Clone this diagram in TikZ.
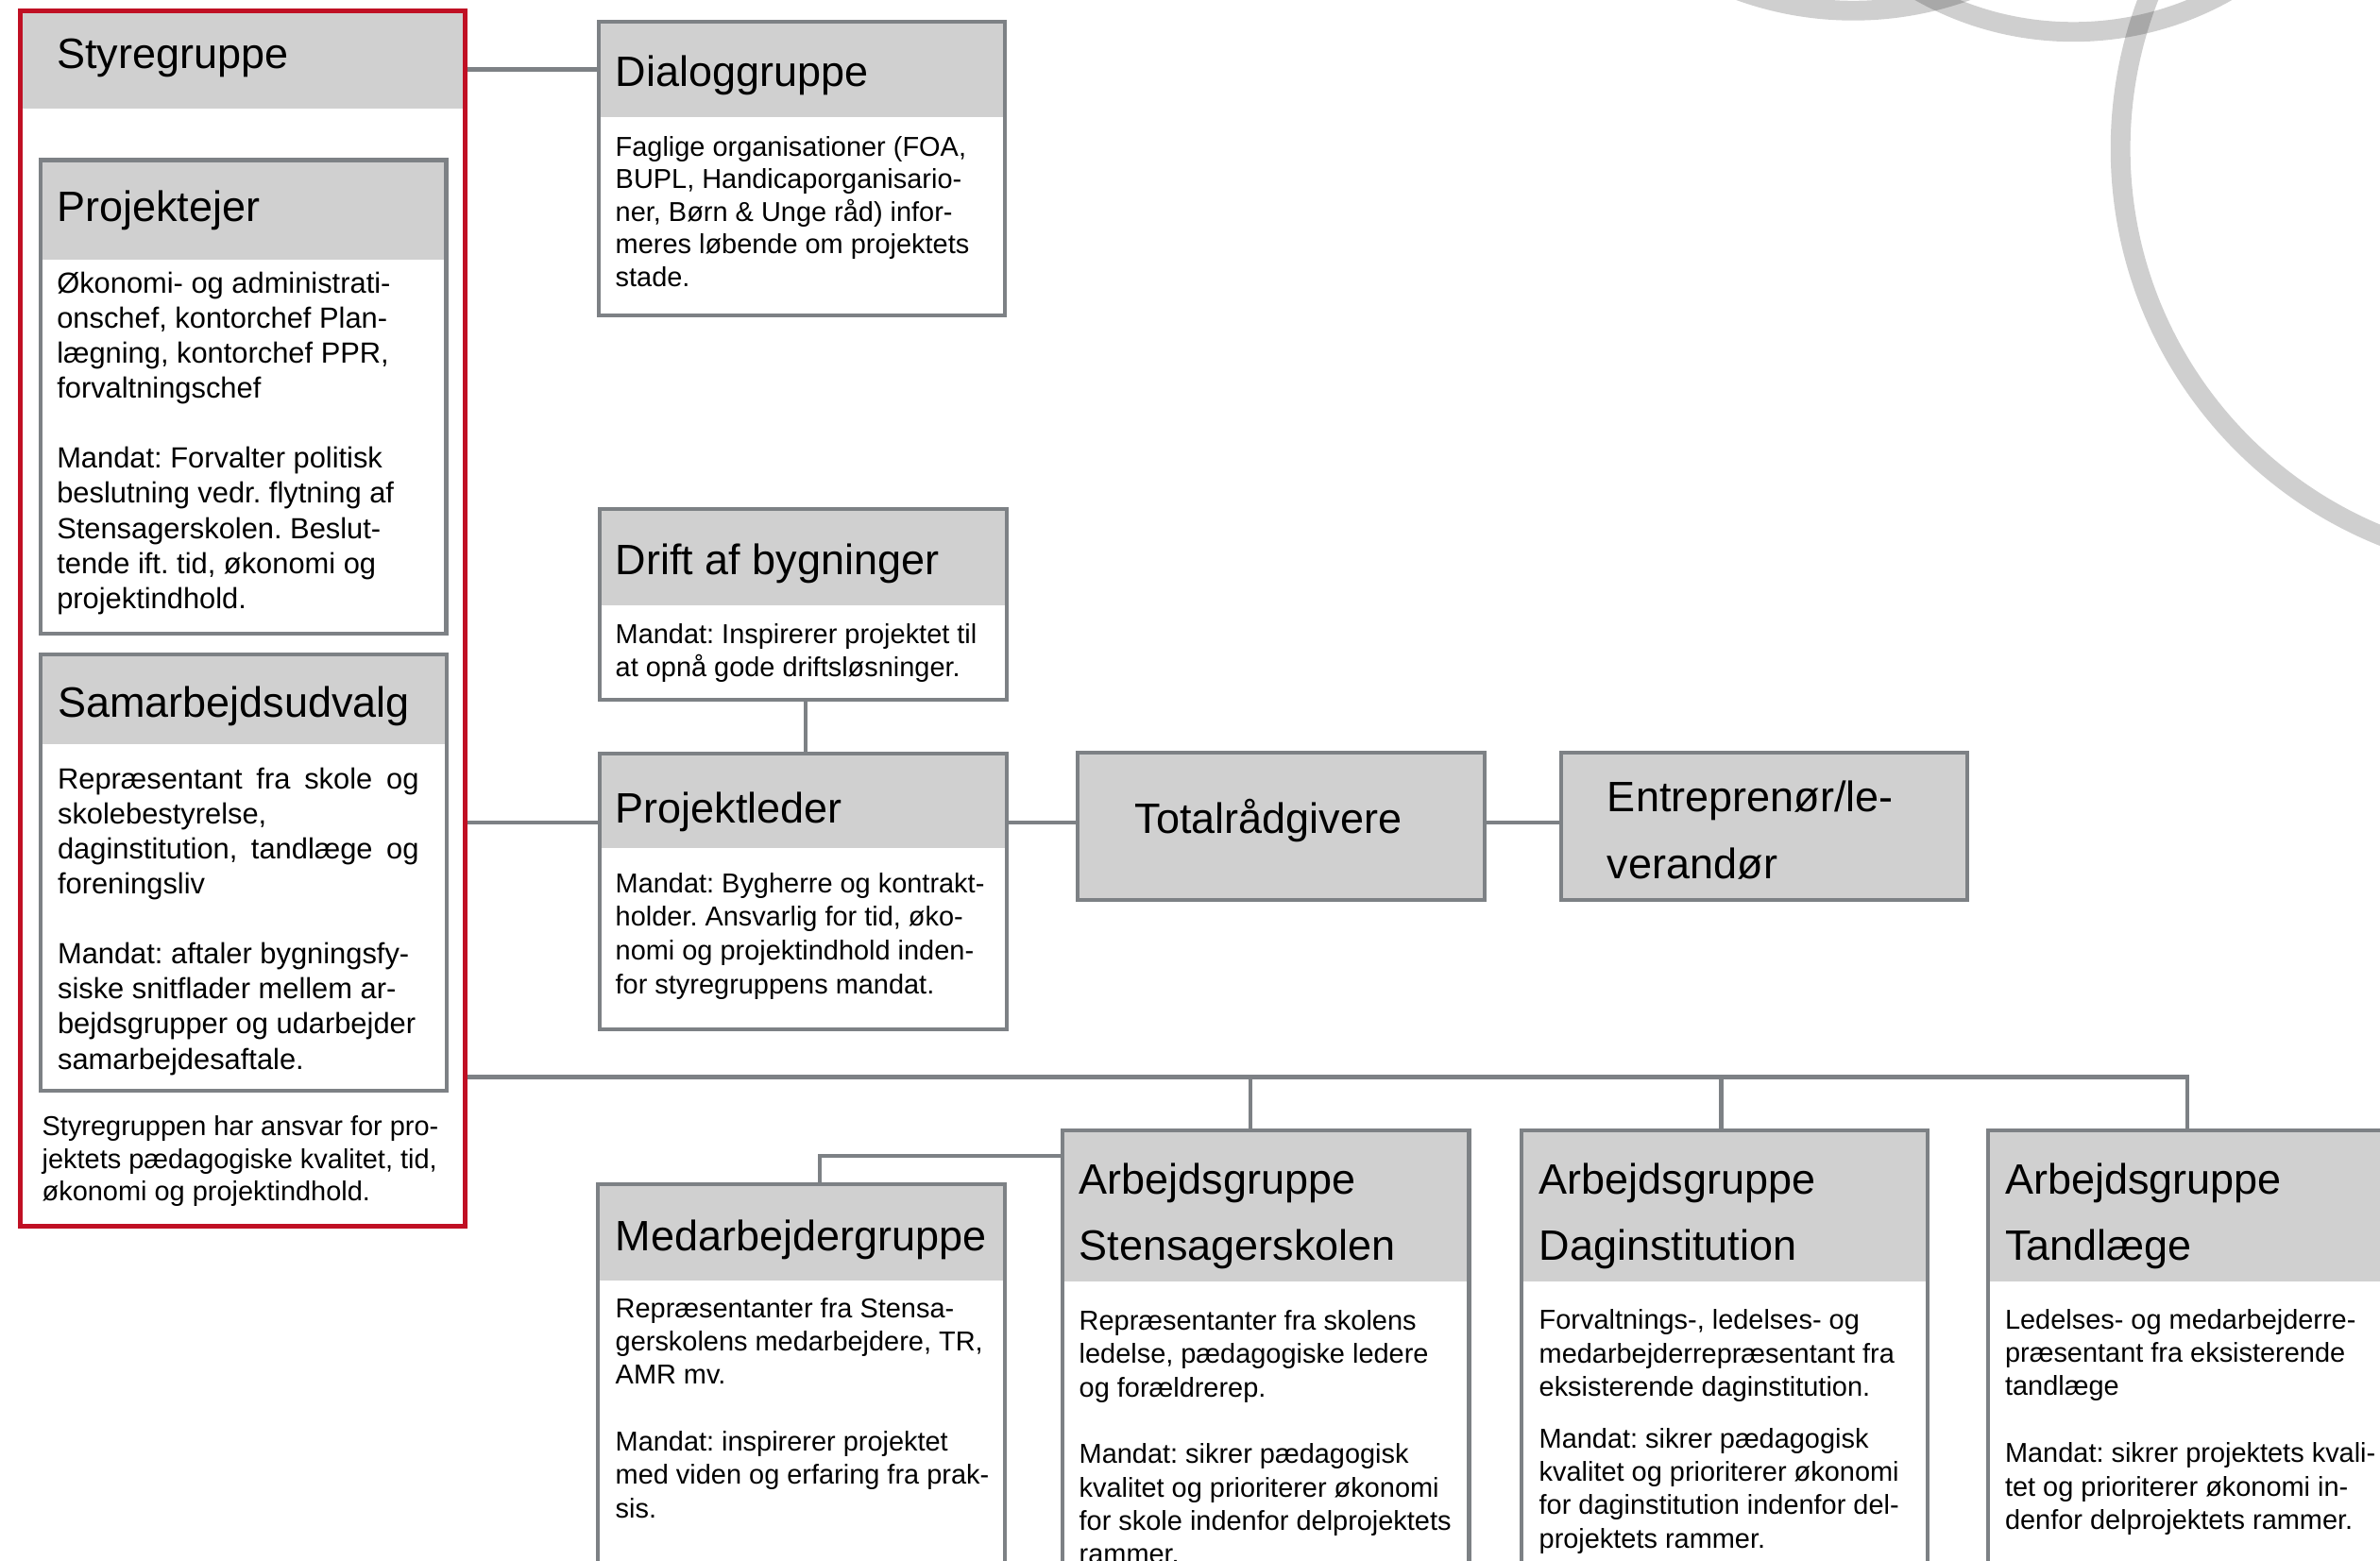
\documentclass[tikz,border=0pt]{standalone}
\usepackage{fontspec}
\setmainfont{Liberation Sans}
\usetikzlibrary{fit,calc}
\frenchspacing
\definecolor{hdrgray}{RGB}{208,208,208}
\definecolor{framegray}{RGB}{125,129,133}
\definecolor{redframe}{RGB}{192,16,36}
\newcommand{\bodyA}{\fontsize{19.2}{23.1}\selectfont}
\newcommand{\bodyB}{\fontsize{18}{22}\selectfont}
\newcommand{\ttl}{\fontsize{28}{43.6}\selectfont}
\newcommand{\blk}[1]{\parbox[t]{330pt}{\raggedright #1}}
\newcommand{\orgbox}[6]{%
  \node[fitbox, fit={(#2,#3) (#4,#5)}] (#1) {};
  \node[fitbox, fill=hdrgray, fit={(#2,#3) (#4,#6)}] (#1-h) {};
  \draw[frame] (#1.north west) rectangle (#1.south east);
}
\begin{document}
\begin{tikzpicture}[x=1pt, y=-1pt,
  fitbox/.style={inner sep=0pt, outer sep=0pt, draw=none},
  frame/.style={draw=framegray, line width=2.6pt},
  conn/.style={draw=framegray, line width=2.6pt},
  txt/.style={anchor=base west, inner sep=0pt, outer sep=0pt, text=black},
  ring/.style={draw=black, draw opacity=0.19, line width=13pt}]
\useasboundingbox (0,0) rectangle (1568,1028.5);
\fill[white] (0,0) rectangle (1568,1028.5);
\clip (0,0) rectangle (1568,1028.5);

% decorative rings
\draw[ring] (1672,98) circle[radius=275pt];
\draw[ring] (1366,-184.5) circle[radius=205.5pt];
\draw[ring] (1221,-213) circle[radius=220pt];

% Styregruppe container
\node[fitbox, fit={(13.2,7) (306.5,807.8)}] (styre) {};
\node[fitbox, fill=hdrgray, fit={(13.2,7) (306.5,71.4)}] (styre-h) {};

% boxes
\orgbox{pe}{27}{105.5}{294}{417.6}{171}
\orgbox{sam}{27}{431}{294.5}{718.5}{490}
\orgbox{dia}{394.5}{14.4}{662}{208}{77}
\orgbox{drift}{395}{335.4}{663.4}{461}{398.7}
\orgbox{pl}{395}{496.6}{663.4}{678}{559}
\orgbox{tr}{710}{496}{978}{593}{593}
\orgbox{ent}{1028.6}{496}{1296}{593}{593}
\orgbox{med}{394}{780.5}{662}{1100}{843.6}
\orgbox{sten}{700}{745}{967.8}{1100}{844.5}
\orgbox{dag}{1002.6}{745}{1270}{1100}{844.5}
\orgbox{tand}{1309.7}{745}{1578}{1100}{844.5}

% connectors
\coordinate (row) at (0,542);
\coordinate (bus) at (0,709.6);
\coordinate (elb) at (0,761.5);
\coordinate (tandtop) at ([xshift=-2.6pt]tand.north);
\coordinate (stentop) at ([xshift=-10pt]sten.north);
\coordinate (dagtop) at ([xshift=-2.3pt]dag.north);
\coordinate (medtop) at ([xshift=12pt]med.north);
\coordinate (drbot) at ([xshift=1.6pt]drift.south);
\coordinate (pltop) at ([xshift=1.6pt]pl.north);

\draw[conn] (styre.east |- dia-h.west) -- (dia-h.west);
\draw[conn] (drbot) -- (pltop);
\draw[conn] (styre.east |- row) -- (pl.west |- row);
\draw[conn] (pl.east |- row) -- (tr.west |- row);
\draw[conn] (tr.east |- row) -- (ent.west |- row);
\draw[conn] (styre.east |- bus) -- (tandtop |- bus) -- (tandtop);
\draw[conn] (stentop |- bus) -- (stentop);
\draw[conn] (dagtop |- bus) -- (dagtop);
\draw[conn] (medtop) |- (sten.west |- elb);

\draw[draw=redframe, line width=3.3pt] (styre.north west) rectangle (styre.south east);

% texts
\node[txt, font=\ttl] (styre-t) at (37.5,45) {Styregruppe};

\node[txt, font=\ttl] (pe-t) at (37.5,146) {Projektejer};
\node[txt, font=\bodyA] (pe-b) at (37.5,193) {\blk{Økonomi- og administrati-\\onschef, kontorchef Plan-\\lægning, kontorchef PPR,\\forvaltningschef\\[23.1pt]Mandat: Forvalter politisk\\beslutning vedr. flytning af\\Stensagerskolen. Beslut-\\tende ift. tid, økonomi og\\projektindhold.}};

\node[txt, font=\ttl] (sam-t) at (38,472.7) {Samarbejdsudvalg};
\node[txt, font=\bodyA] (sam-b) at (38,519.6) {\blk{\makebox[238pt][s]{Repræsentant fra skole og}\\skolebestyrelse,\\\makebox[238pt][s]{daginstitution, tandlæge og}\\foreningsliv\\[23.1pt]Mandat: aftaler bygningsfy-\\siske snitflader mellem ar-\\bejdsgrupper og udarbejder\\samarbejdesaftale.}};

\node[txt, font=\fontsize{18}{21.7}\selectfont] (styre-b) at (27.8,748) {\blk{Styregruppen har ansvar for pro-\\jektets pædagogiske kvalitet, tid,\\økonomi og projektindhold.}};

\node[txt, font=\ttl] (dia-t) at (405.5,57) {Dialoggruppe};
\node[txt, font=\fontsize{18}{21.5}\selectfont] (dia-b) at (405.5,102.7) {\blk{Faglige organisationer (FOA,\\BUPL, Handicaporganisario-\\ner, Børn \& Unge råd) infor-\\meres løbende om projektets\\stade.}};

\node[txt, font=\ttl] (drift-t) at (405.5,378.7) {Drift af bygninger};
\node[txt, font=\fontsize{18}{21.8}\selectfont] (drift-b) at (405.5,424) {\blk{Mandat: Inspirerer projektet til\\at opnå gode driftsløsninger.}};

\node[txt, font=\ttl] (pl-t) at (405.5,542.5) {Projektleder};
\node[txt, font=\fontsize{18}{22.2}\selectfont] (pl-b) at (405.5,588) {\blk{Mandat: Bygherre og kontrakt-\\holder. Ansvarlig for tid, øko-\\nomi og projektindhold inden-\\for styregruppens mandat.}};

\node[txt, font=\ttl] (tr-t) at (747.8,549) {Totalrådgivere};
\node[txt, font=\fontsize{28}{44}\selectfont] (ent-t) at (1059,535) {\blk{Entreprenør/le-\\verandør}};

\node[txt, font=\ttl] (med-t) at (405.5,824) {Medarbejdergruppe};
\node[txt, font=\bodyB] (med-b) at (405.5,868) {\blk{Repræsentanter fra Stensa-\\gerskolens medarbejdere, TR,\\AMR mv.\\[22pt]Mandat: inspirerer projektet\\med viden og erfaring fra prak-\\sis.}};

\node[txt, font=\ttl] (sten-t) at (711,786.6) {\blk{Arbejdsgruppe\\Stensagerskolen}};
\node[txt, font=\bodyB] (sten-b) at (711,876.3) {\blk{Repræsentanter fra skolens\\ledelse, pædagogiske ledere\\og forældrerep.\\[22pt]Mandat: sikrer pædagogisk\\kvalitet og prioriterer økonomi\\for skole indenfor delprojektets\\rammer.}};

\node[txt, font=\ttl] (dag-t) at (1014,786.6) {\blk{Arbejdsgruppe\\Daginstitution}};
\node[txt, font=\bodyB] (dag-b) at (1014,876) {\blk{Forvaltnings-, ledelses- og\\medarbejderrepræsentant fra\\eksisterende daginstitution.\\[12pt]Mandat: sikrer pædagogisk\\kvalitet og prioriterer økonomi\\for daginstitution indenfor del-\\projektets rammer.}};

\node[txt, font=\ttl] (tand-t) at (1321,786.6) {\blk{Arbejdsgruppe\\Tandlæge}};
\node[txt, font=\bodyB] (tand-b) at (1321,875.6) {\blk{Ledelses- og medarbejderre-\\præsentant fra eksisterende\\tandlæge\\[22pt]Mandat: sikrer projektets kvali-\\tet og prioriterer økonomi in-\\denfor delprojektets rammer.}};
\end{tikzpicture}
\end{document}
